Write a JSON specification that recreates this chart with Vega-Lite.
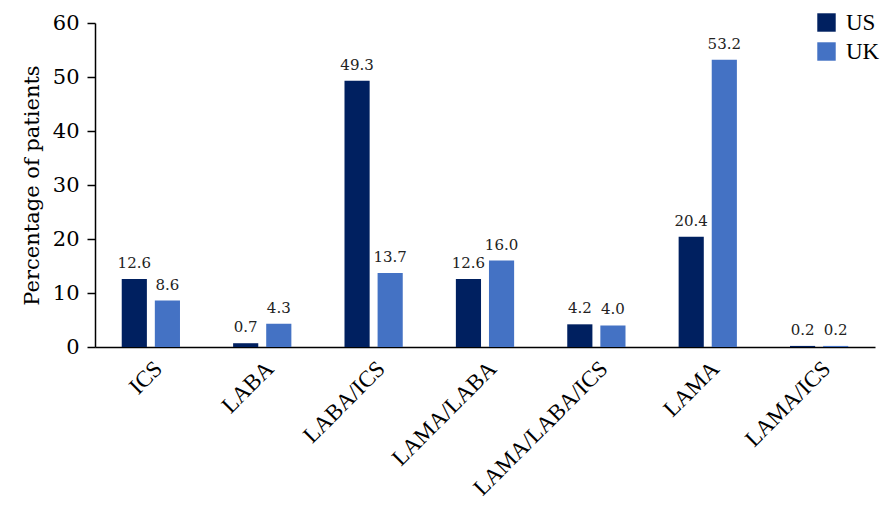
{
  "$schema": "https://vega.github.io/schema/vega-lite/v6.json",
  "width": 780,
  "height": 324,
  "autosize": {"type": "none"},
  "padding": {"left": 95, "top": 23, "right": 5, "bottom": 163},
  "background": "white",
  "config": {
    "view": {"stroke": null},
    "font": "DejaVu Serif"
  },
  "data": {
    "values": [
      {"cat": "ICS", "country": "US", "value": 12.6},
      {"cat": "ICS", "country": "UK", "value": 8.6},
      {"cat": "LABA", "country": "US", "value": 0.7},
      {"cat": "LABA", "country": "UK", "value": 4.3},
      {"cat": "LABA/ICS", "country": "US", "value": 49.3},
      {"cat": "LABA/ICS", "country": "UK", "value": 13.7},
      {"cat": "LAMA/LABA", "country": "US", "value": 12.6},
      {"cat": "LAMA/LABA", "country": "UK", "value": 16.0},
      {"cat": "LAMA/LABA/ICS", "country": "US", "value": 4.2},
      {"cat": "LAMA/LABA/ICS", "country": "UK", "value": 4.0},
      {"cat": "LAMA", "country": "US", "value": 20.4},
      {"cat": "LAMA", "country": "UK", "value": 53.2},
      {"cat": "LAMA/ICS", "country": "US", "value": 0.2},
      {"cat": "LAMA/ICS", "country": "UK", "value": 0.2}
    ]
  },
  "encoding": {
    "x": {
      "field": "cat",
      "type": "nominal",
      "sort": null,
      "scale": {"paddingInner": 0.477, "paddingOuter": 0.24},
      "axis": {
        "title": null,
        "labelAngle": -45,
        "labelFont": "Liberation Serif",
        "labelFontSize": 23,
        "labelColor": "black",
        "ticks": false,
        "domainColor": "black",
        "domainWidth": 1.5,
        "labelPadding": 10
      }
    },
    "xOffset": {
      "field": "country",
      "type": "nominal",
      "sort": ["US", "UK"],
      "scale": {"paddingInner": 0.24, "paddingOuter": 0}
    },
    "y": {
      "field": "value",
      "type": "quantitative",
      "scale": {"domain": [0, 60]},
      "axis": {
        "title": "Percentage of patients",
        "titleFont": "DejaVu Serif",
        "titleFontSize": 21,
        "titleFontWeight": "normal",
        "titleColor": "black",
        "titlePadding": 10,
        "values": [0, 10, 20, 30, 40, 50, 60],
        "labelFont": "DejaVu Serif",
        "labelFontSize": 21,
        "labelColor": "black",
        "grid": false,
        "domainColor": "black",
        "domainWidth": 1.5,
        "tickColor": "black",
        "tickSize": 8,
        "tickWidth": 1.5,
        "labelPadding": 8
      }
    }
  },
  "layer": [
    {
      "mark": {"type": "bar"},
      "encoding": {
        "color": {
          "field": "country",
          "type": "nominal",
          "sort": ["US", "UK"],
          "scale": {"domain": ["US", "UK"], "range": ["#002060", "#4472C4"]},
          "legend": {
            "title": null,
            "orient": "none",
            "legendX": 720,
            "legendY": -12,
            "symbolType": "square",
            "symbolSize": 340,
            "symbolStrokeWidth": 0,
            "labelFont": "Liberation Serif",
            "labelFontSize": 23,
            "labelColor": "black",
            "rowPadding": 5,
            "labelOffset": 8
          }
        }
      }
    },
    {
      "mark": {"type": "text", "dy": -16, "fontSize": 15, "color": "#222222", "font": "DejaVu Serif"},
      "encoding": {
        "text": {"field": "value", "type": "quantitative", "format": ".1f"}
      }
    }
  ]
}
